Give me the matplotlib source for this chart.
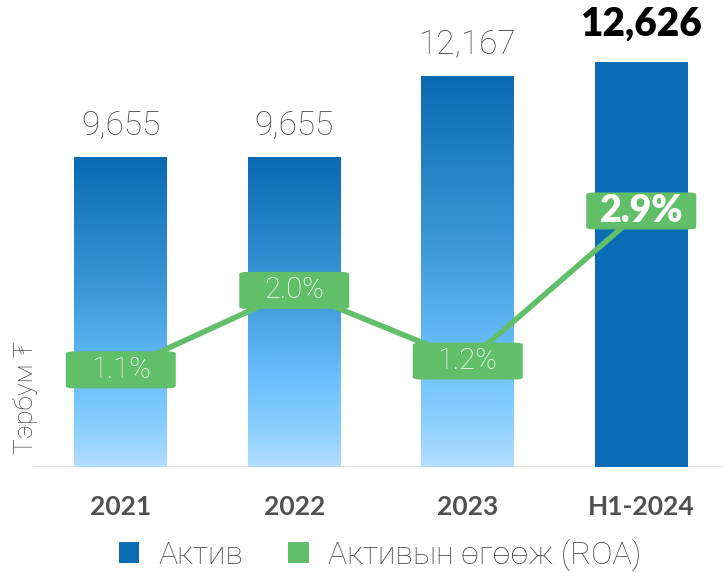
import numpy as np
import matplotlib.pyplot as plt
from matplotlib.colors import LinearSegmentedColormap
from matplotlib.patches import FancyBboxPatch

# data
years = ['2021', '2022', '2023', 'H1-2024']
assets = [9655, 9655, 12167, 12626]
asset_labels = ['9,655', '9,655', '12,167', '12,626']
roa = [1.1, 2.0, 1.2, 2.9]
roa_labels = ['1.1%', '2.0%', '1.2%', '2.9%']

blue = '#0A6CB4'
green = '#61BE69'
gray = '#4A4A4A'
bold_font = 'Lato'
light_font = ['Roboto', 'DejaVu Sans']

fig = plt.figure(figsize=(7.23, 5.73), dpi=100)
W, H = 723, 573
ax = fig.add_axes([34 / W, (H - 467) / H, 689 / W, 450 / H])
x = np.arange(len(years))
step = 173.5
ax.set_xlim(-0.5, -0.5 + 689 / step)
ax.set_ylim(0, 450 / 0.0321)

bars = ax.bar(x, assets, width=93 / step, color=blue, zorder=2)

# gradient fill for first three bars
cmap = LinearSegmentedColormap.from_list(
    'g', [(0, '#B3DDFF'), (0.12, '#8ACFFF'), (0.28, '#6CC0FF'),
          (0.55, '#3E9AD9'), (1.0, '#0A6AB2')])
grad = np.linspace(0, 1, 256).reshape(-1, 1)
for b in bars[:3]:
    b.set_facecolor('none')
    im = ax.imshow(grad, extent=[b.get_x(), b.get_x() + b.get_width(), 0, b.get_height()],
                   origin='lower', aspect='auto', cmap=cmap, zorder=2)
    im.set_clip_path(b)

# value labels
for i, (v, t) in enumerate(zip(assets, asset_labels)):
    if i == 3:
        ax.text(i, v + 600, t, ha='center', va='bottom', fontsize=28, fontweight='heavy',
                color='black', family=bold_font)
    else:
        ax.text(i, v + 500, t, ha='center', va='bottom', fontsize=24, fontweight='light',
                color=gray, family=light_font)

ax.axhline(0, color='#DDDDDD', lw=1.2, zorder=1)
for s in ax.spines.values():
    s.set_visible(False)
ax.set_yticks([])
ax.set_xticks(x)
ax.set_xticklabels(years, fontsize=19, fontweight='bold', color='#505050', family=bold_font)
ax.tick_params(axis='x', length=0, pad=20)
ax.set_ylabel('Тэрбум ₮', fontsize=19, fontweight='light', color=gray, family=light_font,
              va='center')
ax.yaxis.set_label_coords(-9 / 689, 0.155)

# ROA line on second axis
ax2 = ax.twinx()
ax2.set_ylim(0, 450 / 88.3)
ax2.set_yticks([])
for s in ax2.spines.values():
    s.set_visible(False)
ax2.plot(x, roa, color=green, lw=4, zorder=3, solid_capstyle='round')

bw, bh = 110 / step, 37 / 88.3
for i, (v, t) in enumerate(zip(roa, roa_labels)):
    box = FancyBboxPatch((i - bw / 2, v - bh / 2), bw, bh,
                         boxstyle='round,pad=0,rounding_size=0.05',
                         mutation_aspect=88.3 / step,
                         fc=green, ec='none', zorder=4)
    ax2.add_patch(box)
    if i == 3:
        ax2.text(i, v, t, ha='center', va='center', fontsize=27, fontweight='heavy',
                 color='white', family=bold_font, zorder=5)
    else:
        ax2.text(i, v, t, ha='center', va='center', fontsize=21, fontweight='light',
                 color='white', family=light_font, zorder=5)

# legend
h1 = plt.Rectangle((0, 0), 1, 1, fc=blue)
h2 = plt.Rectangle((0, 0), 1, 1, fc=green)
fig.legend([h1, h2], ['Актив', 'Активын өгөөж (ROA)'], loc='center',
           bbox_to_anchor=(380 / W, 1 - 555 / H), ncol=2, frameon=False,
           prop={'family': light_font, 'size': 23, 'weight': 'light'},
           handlelength=0.65, handleheight=0.65, columnspacing=1.4, handletextpad=0.6,
           labelcolor=gray)

fig.savefig('out.png', dpi=100)
